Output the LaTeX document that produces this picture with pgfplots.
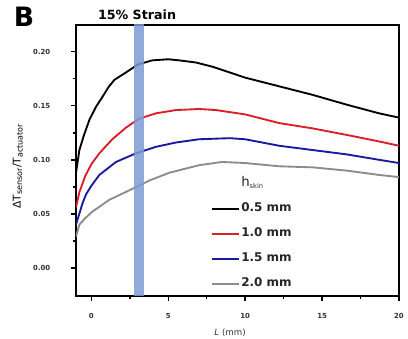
\documentclass[border=0pt]{standalone}
\usepackage{pgfplots}
\pgfplotsset{compat=1.18}
\usepackage{fontspec}
\setmainfont{DejaVu Sans}
\definecolor{cred}{RGB}{220,30,40}
\definecolor{cblue}{RGB}{25,25,160}
\definecolor{cgray}{RGB}{140,140,140}
\definecolor{band}{RGB}{125,155,212}
\begin{document}
\begin{tikzpicture}
\begin{axis}[
  at={(57pt,32.25pt)}, anchor=south west,
  scale only axis, width=242.25pt, height=203.25pt,
  xmin=-1, xmax=20, ymin=-0.026, ymax=0.2247,
  axis line style={line width=1.4pt},
  tick align=outside, xtick pos=left, ytick pos=left,
  major tick length=3.75pt, minor tick length=2.25pt,
  every tick/.style={line width=1.1pt, black},
  minor x tick num=1, minor y tick num=1,
  xtick={0,5,10,15,20}, ytick={0,0.05,0.10,0.15,0.20},
  /pgf/number format/assume math mode=true,
  y tick label style={/pgf/number format/fixed, /pgf/number format/fixed zerofill, /pgf/number format/precision=2},
  ticklabel style={font=\bfseries\fontsize{5.2}{6}\selectfont, text=black!80},
  y tick label style={xshift=-12pt},
  x tick label style={yshift=-6pt},
  xlabel={\textit{L} (mm)},
  xlabel style={at={(axis description cs:0.477,-0.137)}, anchor=center, font=\fontsize{6.5}{7}\selectfont, text=black!80},
  ylabel={ΔT\textsubscript{sensor}/T\textsubscript{actuator}},
  ylabel style={at={(axis description cs:-0.18,0.48)}, anchor=center, rotate=0, font=\fontsize{8}{9}\selectfont},
  title={15\% Strain},
  title style={at={(axis description cs:0.189,1.01)}, anchor=center, font=\bfseries\fontsize{9.5}{11}\selectfont},
  legend style={at={(axis description cs:0.418,0.443)}, anchor=north west, draw=none, fill=none, inner sep=0pt,
    font=\bfseries\fontsize{9}{10}\selectfont, text=black!85, row sep=7.75pt,
    nodes={inner sep=1pt, text height=7pt, text depth=2pt}},
  legend cell align=left,
  legend image code/.code={\draw[#1, line width=1.5pt] (0pt,0pt) -- (20pt,0pt);},
  clip=true,
]
\addlegendimage{empty legend}
\addlegendentry{\mdseries\fontsize{10}{11}\selectfont h\textsubscript{\fontsize{5}{6}\selectfont skin}}
\addplot[black, line width=1.4pt] coordinates {
(-1,0.088) (-0.78,0.109) (-0.5,0.122) (-0.13,0.137) (0.3,0.149) (0.71,0.158) (1.1,0.167) (1.5,0.174) (2.27,0.181) (3.0,0.188) (3.96,0.192) (5.0,0.193) (5.7,0.192) (6.8,0.190) (7.9,0.186) (10,0.176) (12.2,0.168) (14.4,0.160) (16.6,0.151) (18.7,0.143) (20,0.139)};
\addlegendentry{0.5 mm}
\addplot[cred, line width=1.4pt] coordinates {
(-1,0.056) (-0.78,0.070) (-0.4,0.085) (0,0.096) (0.52,0.106) (1.36,0.119) (2.27,0.130) (3.1,0.138) (4.2,0.143) (5.5,0.146) (7,0.147) (8.1,0.146) (10,0.142) (12.2,0.134) (14.4,0.129) (16.6,0.123) (18.7,0.117) (20,0.113)};
\addlegendentry{1.0 mm}
\addplot[cblue, line width=1.4pt] coordinates {
(-1,0.040) (-0.57,0.060) (-0.35,0.068) (0.0,0.076) (0.52,0.086) (1.6,0.098) (2.9,0.106) (4.2,0.112) (5.5,0.116) (7,0.119) (9,0.120) (10,0.119) (12.2,0.113) (14.4,0.109) (16.6,0.105) (18.7,0.100) (20,0.097)};
\addlegendentry{1.5 mm}
\addplot[cgray, line width=1.4pt] coordinates {
(-1,0.029) (-0.78,0.040) (-0.4,0.046) (0.06,0.052) (1.17,0.063) (2.5,0.072) (3.8,0.081) (5.06,0.088) (7,0.095) (8.5,0.098) (10,0.097) (12.2,0.094) (14.4,0.093) (16.6,0.090) (18.7,0.086) (20,0.084)};
\addlegendentry{2.0 mm}
\addplot[draw=none, fill=band, fill opacity=0.85, forget plot] coordinates {(2.75,-0.03) (2.75,0.23) (3.45,0.23) (3.45,-0.03)} -- cycle;
\end{axis}
\node[font=\bfseries\fontsize{20}{22}\selectfont] at (18pt,242pt) {B};
\pgfresetboundingbox
\path (0,0) rectangle (306pt,254.25pt);
\end{tikzpicture}
\end{document}
